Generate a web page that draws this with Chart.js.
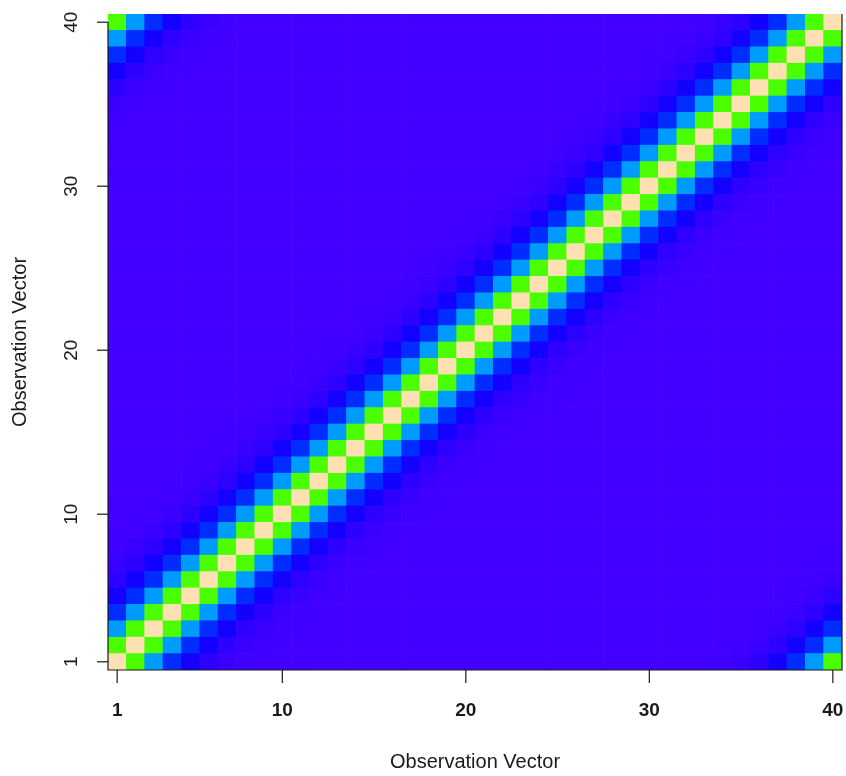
<!DOCTYPE html>
<html>
<head>
<meta charset="utf-8">
<script src="https://cdn.jsdelivr.net/npm/chart.js@4"></script>
<style>
    html, body { margin: 0; padding: 0; background: #fff; }
    #wrap { width: 846px; height: 776px; }
</style>
</head>
<body>
<div id="wrap"><canvas id="heat" width="846" height="776"></canvas></div>
<script>
// Observation indices (both axes)
const obsLabels = Array.from({ length: 40 }, (_, i) => String(i + 1));

// Value by circular lag |i - j|
const lagValues = [1, 0.5, 0.25, 0.125, 0.055, 0.025, 0.012, 0.006, 0.003, 0.0015, 0.0008,
    0.0004, 0.0002, 0.0001, 0, 0, 0, 0, 0, 0, 0];

// Tick labels
const xTicks = [1, 10, 20, 30, 40];
const yTicks = [1, 10, 20, 30, 40];

const axisTitle = 'Observation Vector';
const FONT = '"Liberation Sans", Arial, sans-serif';

function cellValue(i, j) {
    const n = obsLabels.length;
    const d = Math.abs(i - j);
    return lagValues[Math.min(d, n - d)];
}

// topo.colors-like palette
function hsv(h, s, v) {
    const f = (n) => {
        const k = (n + h / 60) % 6;
        return v - v * s * Math.max(0, Math.min(k, 4 - k, 1));
    };
    const to = x => Math.round(x * 255).toString(16).padStart(2, '0');
    return '#' + to(f(5)) + to(f(3)) + to(f(1));
}

function topo(v) {
    if (v < 1 / 3) return hsv(256 - 70 * (v * 3), 1, 1);
    if (v < 2 / 3) return hsv(138 - 72 * ((v - 1 / 3) * 3), 1, 1);
    const t = (v - 2 / 3) * 3;
    return hsv(60 - 24 * t, 1 - 0.7 * t, 1);
}

// one dataset per row, floating bars covering [row - 0.5, row + 0.5]
const datasets = obsLabels.map((_, r) => ({
    data: obsLabels.map(() => [r + 0.5, r + 1.5]),
    backgroundColor: obsLabels.map((_, c) => topo(cellValue(r + 1, c + 1))),
    borderWidth: 0,
    grouped: false,
    barPercentage: 1,
    categoryPercentage: 1
}));

// R style axes
const rAxes = {
    id: 'rAxes',
    afterDraw(chart) {
        const ctx = chart.ctx;
        const area = chart.chartArea;
        const xs = chart.scales.x;
        const ys = chart.scales.y;
        ctx.save();
        ctx.strokeStyle = '#1a1a1a';
        ctx.fillStyle = '#1a1a1a';
        ctx.lineWidth = 1.2;

        // frame lines
        ctx.beginPath();
        ctx.moveTo(area.left, ys.getPixelForValue(40));
        ctx.lineTo(area.left, area.bottom);
        ctx.lineTo(area.right, area.bottom);
        ctx.lineTo(area.right, area.top);
        ctx.stroke();

        // x ticks
        ctx.font = 'bold 19px ' + FONT;
        ctx.textAlign = 'center';
        ctx.textBaseline = 'middle';
        xTicks.forEach(t => {
            const px = xs.getPixelForValue(t - 1);
            ctx.beginPath();
            ctx.moveTo(px, area.bottom);
            ctx.lineTo(px, area.bottom + 13);
            ctx.stroke();
            ctx.fillText(String(t), px, area.bottom + 41);
        });

        // y ticks (rotated labels)
        ctx.font = '19px ' + FONT;
        yTicks.forEach(t => {
            const py = ys.getPixelForValue(t);
            ctx.beginPath();
            ctx.moveTo(area.left - 11, py);
            ctx.lineTo(area.left, py);
            ctx.stroke();
            ctx.save();
            ctx.translate(area.left - 36, py);
            ctx.rotate(-Math.PI / 2);
            ctx.fillText(String(t), 0, 0);
            ctx.restore();
        });

        // axis titles
        ctx.font = '20px ' + FONT;
        const cx = (area.left + area.right) / 2;
        const cy = (area.top + area.bottom) / 2;
        ctx.fillText(axisTitle, cx, area.bottom + 92);
        ctx.save();
        ctx.translate(20, cy);
        ctx.rotate(-Math.PI / 2);
        ctx.fillText(axisTitle, 0, 0);
        ctx.restore();

        ctx.restore();
    }
};

new Chart(document.getElementById('heat'), {
    type: 'bar',
    data: { labels: obsLabels, datasets: datasets },
    options: {
        responsive: false,
        animation: false,
        events: [],
        layout: { padding: { left: 108, right: 4, top: 14, bottom: 106 } },
        plugins: { legend: { display: false }, tooltip: { enabled: false } },
        scales: {
            x: { type: 'category', offset: true, display: false },
            y: { type: 'linear', min: 0.5, max: 40.5, display: false }
        }
    },
    plugins: [rAxes]
});
</script>
</body>
</html>
